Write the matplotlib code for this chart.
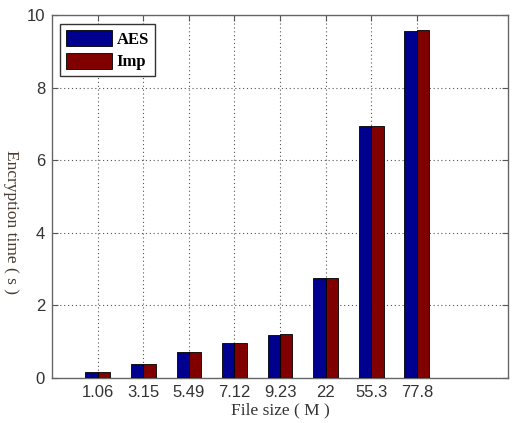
import numpy as np
import matplotlib.pyplot as plt

# file sizes (M) and encryption time (s)
sizes = ['1.06', '3.15', '5.49', '7.12', '9.23', '22', '55.3', '77.8']
aes = [0.17, 0.39, 0.71, 0.96, 1.19, 2.75, 6.94, 9.56]
imp = [0.17, 0.39, 0.71, 0.96, 1.22, 2.75, 6.94, 9.59]

fig = plt.figure(figsize=(5.12, 4.23), dpi=100)
ax = fig.add_axes([0.1016, 0.1064, 0.8906, 0.858])

x = np.arange(1, len(sizes) + 1)
w = 0.27
ax.bar(x - w / 2, aes, w, color='#00008F', edgecolor='black', linewidth=0.6, label='AES', zorder=3)
ax.bar(x + w / 2, imp, w, color='#800000', edgecolor='black', linewidth=0.6, label='Imp', zorder=3)

ax.set_xlim(0, 10)
ax.set_ylim(0, 10)
ax.set_xticks(x)
ax.set_xticklabels(sizes)
ax.set_yticks([0, 2, 4, 6, 8, 10])

ax.grid(True, linestyle=(0, (1, 2.5)), color='#555555', linewidth=0.8, zorder=0)
ax.set_axisbelow(True)
ax.tick_params(direction='in', top=True, right=True, length=4, color='#555555',
               labelsize=12, labelcolor='#333333', pad=5)
for lab in ax.get_xticklabels() + ax.get_yticklabels():
    lab.set_family('Liberation Sans')
for s in ax.spines.values():
    s.set_color('#666666')
    s.set_linewidth(1.0)

ax.set_xlabel('File size ( M )', family='Liberation Serif', fontsize=12.5, color='#333333', labelpad=2)
# ylabel reads top to bottom in the original
ax.set_ylabel('Encryption time ( s )', family='Liberation Serif', fontsize=12.5, color='#4a3a30',
              rotation=-90, va='center', ha='center')
ax.yaxis.set_label_coords(-0.09, 0.43)

leg = ax.legend(loc='upper left', bbox_to_anchor=(0.0175, 0.975), borderaxespad=0, fancybox=False,
                prop={'family': 'Liberation Serif', 'weight': 'bold', 'size': 12},
                handlelength=2.8, handleheight=1.1, borderpad=0.35, labelspacing=0.3,
                handletextpad=0.25, framealpha=1)
leg.get_frame().set_edgecolor('#333333')
leg.get_frame().set_linewidth(1.0)

fig.savefig('out.png', dpi=100)
